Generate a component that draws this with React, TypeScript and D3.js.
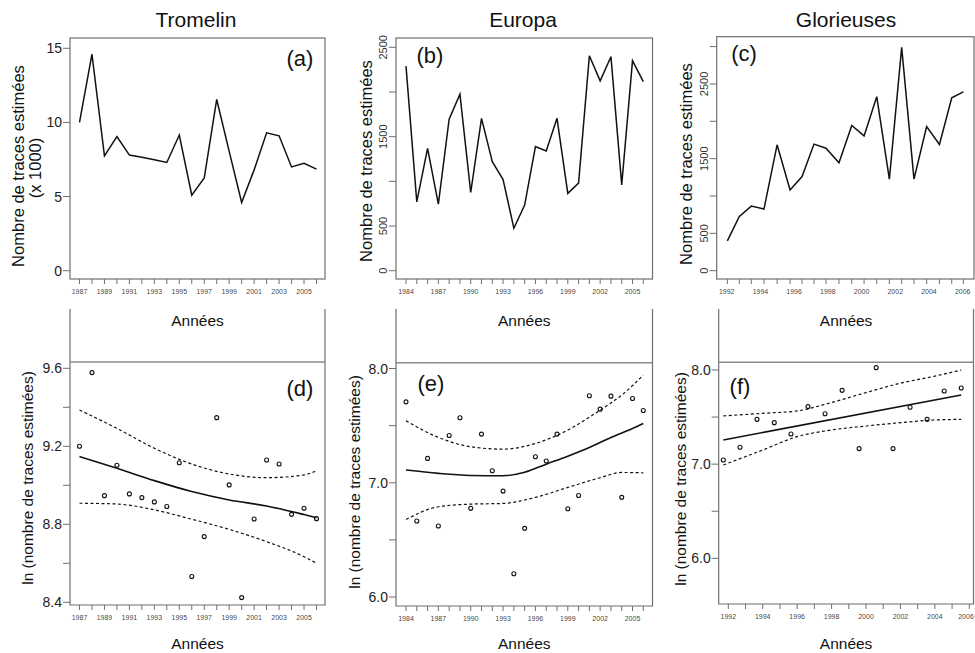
import * as d3 from "d3";

// ---- data ----
const islands = ["Tromelin", "Europa", "Glorieuses"];
const panelLetters = ["(a)", "(b)", "(c)", "(d)", "(e)", "(f)"];

// Tromelin, estimated tracks (x 1000)
const yearsTromelin = [1987, 1988, 1989, 1990, 1991, 1992, 1993, 1994, 1995, 1996, 1997, 1998, 1999, 2000, 2001, 2002, 2003, 2004, 2005, 2006];
const tracesTromelin = [10.0, 14.6, 7.75, 9.05, 7.8, 7.65, 7.48, 7.3, 9.15, 5.1, 6.25, 11.55, 8.05, 4.6, 6.8, 9.3, 9.1, 7.0, 7.25, 6.85];
const lnTromelin = [9.2, 9.578, 8.947, 9.103, 8.956, 8.937, 8.915, 8.891, 9.116, 8.532, 8.737, 9.347, 9.002, 8.424, 8.827, 9.13, 9.109, 8.851, 8.882, 8.829];
const fitYearsTromelin = [1987, 1990, 1993, 1996, 1999, 2002, 2005, 2006];
const fitTromelin = [9.147, 9.087, 9.024, 8.968, 8.925, 8.894, 8.85, 8.834];
const fitHiTromelin = [9.386, 9.292, 9.19, 9.109, 9.058, 9.039, 9.053, 9.075];
const fitLoTromelin = [8.908, 8.904, 8.874, 8.826, 8.774, 8.711, 8.634, 8.6];

// Europa
const yearsEuropa = [1984, 1985, 1986, 1987, 1988, 1989, 1990, 1991, 1992, 1993, 1994, 1995, 1996, 1997, 1998, 1999, 2000, 2001, 2002, 2003, 2004, 2005, 2006];
const tracesEuropa = [2290, 770, 1370, 745, 1695, 1975, 875, 1705, 1220, 1020, 475, 735, 1390, 1340, 1705, 865, 980, 2405, 2125, 2395, 960, 2350, 2115];
const lnEuropa = [7.708, 6.665, 7.213, 6.621, 7.414, 7.569, 6.776, 7.426, 7.105, 6.927, 6.204, 6.601, 7.227, 7.19, 7.426, 6.773, 6.889, 7.761, 7.644, 7.758, 6.872, 7.738, 7.633];
const fitYearsEuropa = [1984, 1987, 1990, 1993, 1995, 1997, 1999, 2001, 2003, 2005, 2006];
const fitEuropa = [7.111, 7.082, 7.064, 7.061, 7.092, 7.163, 7.233, 7.309, 7.397, 7.475, 7.519];
const bandYearsEuropa = [1984, 1987, 1990, 1993, 1996, 1999, 2002, 2004, 2006];
const fitHiEuropa = [7.542, 7.397, 7.315, 7.294, 7.344, 7.461, 7.636, 7.767, 7.942];
const fitLoEuropa = [6.679, 6.79, 6.813, 6.819, 6.872, 6.959, 7.044, 7.09, 7.087];

// Glorieuses
const yearsGlorieuses = [1992.04, 1992.75, 1993.46, 1994.21, 1994.99, 1995.76, 1996.47, 1997.18, 1997.89, 1998.66, 1999.42, 2000.15, 2000.9, 2001.65, 2002.38, 2003.11, 2003.86, 2004.62, 2005.35, 2006.04];
const tracesGlorieuses = [400, 725, 865, 825, 1685, 1080, 1260, 1695, 1640, 1445, 1945, 1805, 2330, 1225, 2990, 1225, 1930, 1690, 2315, 2395];
const lnYearsGlorieuses = [1991.71, 1992.68, 1993.67, 1994.67, 1995.64, 1996.63, 1997.62, 1998.61, 1999.6, 2000.59, 2001.57, 2002.56, 2003.55, 2004.54, 2005.53];
const lnGlorieuses = [7.044, 7.179, 7.476, 7.441, 7.32, 7.611, 7.536, 7.784, 7.165, 8.025, 7.165, 7.604, 7.476, 7.777, 7.809];
const fitYearsGlorieuses = [1991.71, 2005.53];
const fitGlorieuses = [7.257, 7.735];
const bandYearsGlorieuses = [1991.71, 1994, 1996, 1998, 2000, 2002, 2004, 2005.53];
const fitHiGlorieuses = [7.512, 7.54, 7.565, 7.655, 7.76, 7.86, 7.935, 8.0];
const fitLoGlorieuses = [6.991, 7.15, 7.292, 7.363, 7.405, 7.441, 7.469, 7.476];

// axis ticks
const yTicksA = [0, 5, 10, 15];
const yTicksB = [0, 500, 1000, 1500, 2000, 2500];
const yLabelsB = [0, 500, 1500, 2500];
const yTicksC = [0, 500, 1000, 1500, 2000, 2500, 3000];
const yLabelsC = [0, 500, 1500, 2500];
const yTicksD = [8.4, 8.6, 8.8, 9.0, 9.2, 9.4, 9.6];
const yLabelsD = [8.4, 8.8, 9.2, 9.6];
const yTicksEF = [6.0, 6.5, 7.0, 7.5, 8.0];
const yLabelsEF = [6.0, 7.0, 8.0];

const FONT = "'Liberation Sans', Arial, Helvetica, sans-serif";
const FRAME = "#6f6f6f";
const INK = "#111";

type Panel = {
  letter: string;
  x0: number; x1: number; top: number; bottom: number;
  xs: d3.ScaleLinear<number, number>;
  ys: d3.ScaleLinear<number, number>;
  xTicks: number[]; xLabels: number[];
  yTicks: number[]; yLabels: number[]; rotateY?: boolean; yFmt: (v: number) => string;
  letterX: number; letterY: number;
};

function Axes({ p }: { p: Panel }) {
  return (
    <g>
      {p.yTicks.map((t) => (
        <line key={"yt" + t} x1={p.x0 - 7} x2={p.x0} y1={p.ys(t)} y2={p.ys(t)} stroke={FRAME} strokeWidth={1} />
      ))}
      {p.yLabels.map((t) =>
        p.rotateY ? (
          <text key={"yl" + t} transform={`translate(${p.x0 - 9},${p.ys(t)}) rotate(-90)`} textAnchor="middle" fontSize={11} fill="#222" fillOpacity={0.95}>
            {p.yFmt(t)}
          </text>
        ) : (
          <text key={"yl" + t} x={p.x0 - 8} y={p.ys(t) + 5} textAnchor="end" fontSize={14} fill="#222">
            {p.yFmt(t)}
          </text>
        )
      )}
      {p.xTicks.map((t) => (
        <line key={"xt" + t} x1={p.xs(t)} x2={p.xs(t)} y1={p.bottom} y2={p.bottom + 5} stroke={FRAME} strokeWidth={1} />
      ))}
      {p.xLabels.map((t) => (
        <text key={"xl" + t} x={Math.min(p.xs(t), 966)} y={p.bottom + 15} textAnchor="middle" fontSize={7} fill="#333" fillOpacity={0.95}>
          {t}
        </text>
      ))}
      <text x={p.letterX} y={p.letterY} textAnchor="middle" fontSize={22} fill={INK}>
        {p.letter}
      </text>
    </g>
  );
}

export default function App() {
  const yr = (a: number, b: number) => d3.range(a, b + 1);

  // top row
  const xa = d3.scaleLinear().domain([1987, 2006]).range([79.5, 316.5]);
  const xb = d3.scaleLinear().domain([1984, 2006]).range([406, 643.3]);
  const xc = d3.scaleLinear().domain([1992, 2006]).range([726.7, 962.7]);
  const ya = d3.scaleLinear().domain([0, 15]).range([270.7, 48.3]);
  const yb = d3.scaleLinear().domain([0, 2500]).range([270.7, 47.3]);
  const yc = d3.scaleLinear().domain([0, 3000]).range([270.7, 46.6]);
  // bottom row
  const xf = d3.scaleLinear().domain([1992, 2006]).range([728.3, 969.3]);
  const yd = d3.scaleLinear().domain([8.4, 9.6]).range([602.3, 368.3]);
  const ye = d3.scaleLinear().domain([6, 8]).range([597, 368.5]);
  const yf = d3.scaleLinear().domain([6, 8]).range([558.3, 370]);

  const f0 = (v: number) => String(v);
  const f1 = (v: number) => v.toFixed(1);

  const top: Panel[] = [
    { letter: panelLetters[0], x0: 70, x1: 325, top: 38, bottom: 279, xs: xa, ys: ya, xTicks: yr(1987, 2006), xLabels: d3.range(1987, 2006, 2), yTicks: yTicksA, yLabels: yTicksA, yFmt: f0, letterX: 300, letterY: 66 },
    { letter: panelLetters[1], x0: 396, x1: 652.5, top: 38, bottom: 279, xs: xb, ys: yb, xTicks: yr(1984, 2006), xLabels: d3.range(1984, 2006, 3), yTicks: yTicksB, yLabels: yLabelsB, rotateY: true, yFmt: f0, letterX: 430, letterY: 63 },
    { letter: panelLetters[2], x0: 716.7, x1: 974, top: 36.7, bottom: 279, xs: xc, ys: yc, xTicks: yearsGlorieuses, xLabels: d3.range(1992, 2007, 2), yTicks: yTicksC, yLabels: yLabelsC, rotateY: true, yFmt: f0, letterX: 744, letterY: 61 },
  ];
  const bottom: Panel[] = [
    { letter: panelLetters[3], x0: 70, x1: 325, top: 362, bottom: 605, xs: xa, ys: yd, xTicks: yr(1987, 2006), xLabels: d3.range(1987, 2006, 2), yTicks: yTicksD, yLabels: yLabelsD, yFmt: f1, letterX: 300, letterY: 396 },
    { letter: panelLetters[4], x0: 396, x1: 652.5, top: 362.7, bottom: 606, xs: xb, ys: ye, xTicks: yr(1984, 2006), xLabels: d3.range(1984, 2006, 3), yTicks: yTicksEF, yLabels: yLabelsEF, yFmt: f1, letterX: 431, letterY: 391 },
    { letter: panelLetters[5], x0: 718.7, x1: 973.5, top: 362.3, bottom: 604, xs: xf, ys: yf, xTicks: yr(1992, 2006), xLabels: d3.range(1992, 2007, 2), yTicks: yTicksEF, yLabels: yLabelsEF, yFmt: f1, letterX: 740, letterY: 394 },
  ];

  const seriesTop = [
    { x: yearsTromelin, y: tracesTromelin },
    { x: yearsEuropa, y: tracesEuropa },
    { x: yearsGlorieuses, y: tracesGlorieuses },
  ];
  const scatter = [
    { x: yearsTromelin, y: lnTromelin },
    { x: yearsEuropa, y: lnEuropa },
    { x: lnYearsGlorieuses, y: lnGlorieuses },
  ];
  const fits = [
    { fx: fitYearsTromelin, fy: fitTromelin, bx: fitYearsTromelin, hi: fitHiTromelin, lo: fitLoTromelin },
    { fx: fitYearsEuropa, fy: fitEuropa, bx: bandYearsEuropa, hi: fitHiEuropa, lo: fitLoEuropa },
    { fx: fitYearsGlorieuses, fy: fitGlorieuses, bx: bandYearsGlorieuses, hi: fitHiGlorieuses, lo: fitLoGlorieuses },
  ];

  const pathOf = (xs: number[], ys: number[], p: Panel, curve: d3.CurveFactory) =>
    d3.line<number>().x((_, i) => p.xs(xs[i])).y((v) => p.ys(v)).curve(curve)(ys) || "";

  const yTitle = "Nombre de traces estimées";
  const lnTitle = "ln (nombre de traces estimées)";

  return (
    <svg width={975} height={653} style={{ position: "absolute", left: 0, top: 0, background: "#fff" }} fontFamily={FONT}>
      {islands.map((name, i) => (
        <text key={name} x={[196, 523, 846][i]} y={27} textAnchor="middle" fontSize={21} fill={INK}>
          {name}
        </text>
      ))}

      {top.map((p, i) => (
        <g key={"top" + i}>
          <rect x={p.x0} y={p.top} width={p.x1 - p.x0} height={p.bottom - p.top} fill="none" stroke={FRAME} strokeWidth={1.2} />
          <Axes p={p} />
          <path d={pathOf(seriesTop[i].x, seriesTop[i].y, p, d3.curveLinear)} fill="none" stroke={INK} strokeWidth={1.5} strokeLinejoin="miter" />
        </g>
      ))}

      {/* y titles top row */}
      <text transform="translate(24,166) rotate(-90)" textAnchor="middle" fontSize={16.5} fill={INK}>{yTitle}</text>
      <text transform="translate(41,168) rotate(-90)" textAnchor="middle" fontSize={16.5} fill={INK}>(x 1000)</text>
      <text transform="translate(372,161) rotate(-90)" textAnchor="middle" fontSize={16.5} fill={INK}>{yTitle}</text>
      <text transform="translate(692,164) rotate(-90)" textAnchor="middle" fontSize={16.5} fill={INK}>{yTitle}</text>

      {bottom.map((p, i) => (
        <g key={"bot" + i}>
          <path d={`M${p.x0},309V${p.bottom}H${p.x1}V309`} fill="none" stroke={FRAME} strokeWidth={1.2} />
          <line x1={p.x0} x2={p.x1} y1={p.top} y2={p.top} stroke="#8a8a8a" strokeWidth={1.5} />
          <text x={(p.x0 + p.x1) / 2} y={326} textAnchor="middle" fontSize={15.5} fill={INK}>Années</text>
          <text x={(p.x0 + p.x1) / 2} y={649} textAnchor="middle" fontSize={15.5} fill={INK}>Années</text>
          <Axes p={p} />
          <path d={pathOf(fits[i].bx, fits[i].hi, p, d3.curveMonotoneX)} fill="none" stroke={INK} strokeWidth={1.2} strokeDasharray="3,2.5" />
          <path d={pathOf(fits[i].bx, fits[i].lo, p, d3.curveMonotoneX)} fill="none" stroke={INK} strokeWidth={1.2} strokeDasharray="3,2.5" />
          <path d={pathOf(fits[i].fx, fits[i].fy, p, d3.curveMonotoneX)} fill="none" stroke={INK} strokeWidth={1.6} />
          {scatter[i].y.map((v, j) => (
            <circle key={j} cx={p.xs(scatter[i].x[j])} cy={p.ys(v)} r={2} fill="none" stroke={INK} strokeWidth={1.1} />
          ))}
        </g>
      ))}

      <text transform="translate(33,478) rotate(-90)" textAnchor="middle" fontSize={15.5} fill={INK}>{lnTitle}</text>
      <text transform="translate(360,482) rotate(-90)" textAnchor="middle" fontSize={15.5} fill={INK}>{lnTitle}</text>
      <text transform="translate(686,479) rotate(-90)" textAnchor="middle" fontSize={15.5} fill={INK}>{lnTitle}</text>
    </svg>
  );
}
